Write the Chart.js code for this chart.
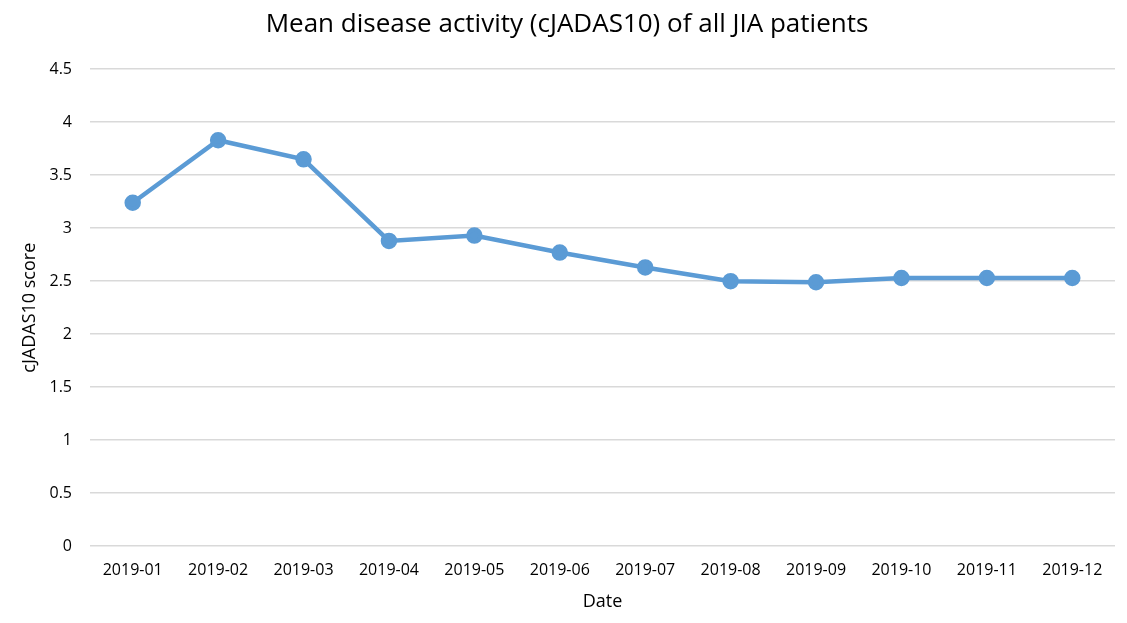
<!DOCTYPE html>
<html>
<head>
<meta charset="utf-8">
<script src="https://cdn.jsdelivr.net/npm/chart.js@4"></script>
<style>
  html, body { margin: 0; padding: 0; background: #fff; }
  #wrap { width: 1127px; height: 623px; }
</style>
</head>
<body>
<div id="wrap"><canvas id="chart"></canvas></div>
<script>
// Data
const months = ["2019-01", "2019-02", "2019-03", "2019-04", "2019-05", "2019-06",
  "2019-07", "2019-08", "2019-09", "2019-10", "2019-11", "2019-12"];
const meanScore = [3.24, 3.83, 3.65, 2.88, 2.93, 2.77, 2.63, 2.50, 2.49, 2.53, 2.53, 2.53];
const yTicks = [0, 0.5, 1, 1.5, 2, 2.5, 3, 3.5, 4, 4.5];

const FONT = "'Open Sans', 'Noto Sans', sans-serif";
const BLUE = "#5b9bd5";

new Chart(document.getElementById("chart"), {
  type: "line",
  data: {
    labels: months,
    datasets: [{
      data: meanScore,
      borderColor: BLUE,
      backgroundColor: BLUE,
      borderWidth: 4.5,
      pointRadius: 6,
      pointHoverRadius: 6,
      tension: 0,
    }],
  },
  options: {
    responsive: true,
    maintainAspectRatio: false,
    animation: false,
    layout: { padding: { left: 19, right: 12, top: 0, bottom: 6 } },
    plugins: {
      legend: { display: false },
      tooltip: { enabled: false },
      title: {
        display: true,
        text: "Mean disease activity (cJADAS10) of all JIA patients",
        color: "#000",
        font: { family: FONT, size: 26, weight: "normal" },
        padding: { top: 9, bottom: 29 },
      },
    },
    scales: {
      x: {
        offset: true,
        grid: { display: false },
        border: { display: false },
        ticks: { color: "#000", font: { family: FONT, size: 16 }, padding: 7, maxRotation: 0 },
        title: {
          display: true, text: "Date", color: "#000",
          font: { family: FONT, size: 18 }, padding: { top: 4 },
        },
      },
      y: {
        min: 0,
        max: 4.5,
        afterBuildTicks: (axis) => { axis.ticks = yTicks.map((v) => ({ value: v })); },
        afterFit: (axis) => { axis.width = 71; },
        grid: { color: "#d9d9d9", lineWidth: 1.5, drawTicks: false },
        border: { display: false },
        ticks: {
          color: "#000", font: { family: FONT, size: 16 }, padding: 18,
          callback: (v) => String(v),
        },
        title: {
          display: true, text: "cJADAS10 score", color: "#000",
          font: { family: FONT, size: 18 }, padding: { top: 0, bottom: 0 },
        },
      },
    },
  },
});
</script>
</body>
</html>
